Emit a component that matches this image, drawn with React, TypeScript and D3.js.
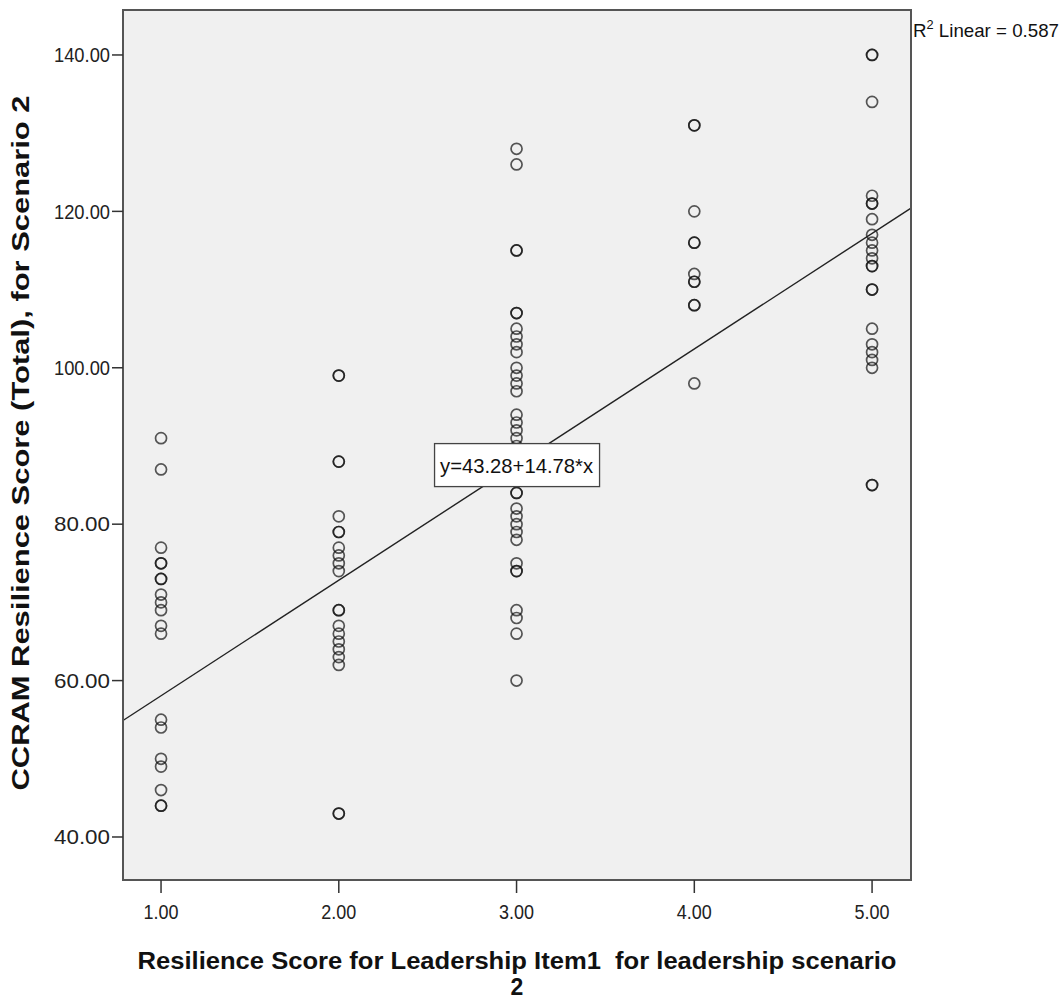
import React from "react";
import * as d3 from "d3";

const xLevels = [1, 2, 3, 4, 5];
const scoresAt1 = [91, 87, 77, 75, 75, 73, 73, 71, 70, 69, 67, 66, 55, 54, 50, 49, 46, 44, 44];
const scoresAt2 = [99, 99, 88, 88, 81, 79, 79, 77, 76, 75, 74, 69, 69, 67, 66, 65, 64, 63, 62, 43, 43];
const scoresAt3 = [128, 126, 115, 115, 107, 107, 105, 104, 103, 102, 100, 99, 98, 97, 94, 93, 92, 91, 90, 87, 84, 84, 82, 81, 80, 79, 78, 75, 74, 74, 69, 68, 66, 60];
const scoresAt4 = [131, 131, 120, 116, 116, 112, 111, 111, 108, 108, 98];
const scoresAt5 = [140, 140, 134, 122, 121, 121, 119, 117, 116, 115, 114, 113, 113, 110, 110, 105, 103, 102, 101, 100, 85, 85];
const xTicks = [1, 2, 3, 4, 5];
const yTicks = [40, 60, 80, 100, 120, 140];
const intercept = 43.28;
const slope = 14.78;
const r2Text = "0.587";

const allScores = [scoresAt1, scoresAt2, scoresAt3, scoresAt4, scoresAt5];
const points = xLevels.flatMap((xv, i) => allScores[i].map((yv) => ({ x: xv, y: yv })));

export default function App() {
  const left = 123, right = 911, top = 10, bottom = 880;
  const x = d3.scaleLinear().domain([0.786, 5.219]).range([left, right]);
  const y = d3.scaleLinear().domain([34.5, 145.75]).range([bottom, top]);
  const fmt = d3.format(".2f");
  const [x0, x1] = x.domain();
  const lineGen = d3.line<number>().x((d) => x(d)).y((d) => y(intercept + slope * d));
  const boxX = x(3), boxY = y(intercept + slope * 3);
  const font = "'Liberation Sans', Arial, sans-serif";
  return (
    <svg width={1063} height={1000} style={{ position: "absolute", left: 0, top: 0, background: "#fff" }} fontFamily={font}>
      <defs>
        <clipPath id="plotclip">
          <rect x={left} y={top} width={right - left} height={bottom - top} />
        </clipPath>
      </defs>
      <rect x={left} y={top} width={right - left} height={bottom - top} fill="#f0f0f0" />
      <g clipPath="url(#plotclip)">
        {points.map((p, i) => (
          <circle key={i} cx={x(p.x)} cy={y(p.y)} r={5.5} fill="none" stroke="#111" strokeOpacity={0.7} strokeWidth={1.7} />
        ))}
        <path d={lineGen([x0, x1]) || ""} fill="none" stroke="#222" strokeWidth={1.4} />
      </g>
      <rect x={left} y={top} width={right - left} height={bottom - top} fill="none" stroke="#555" strokeWidth={2} />
      {yTicks.map((t) => (
        <g key={t}>
          <line x1={left - 11} x2={left} y1={y(t)} y2={y(t)} stroke="#333" strokeWidth={1.5} />
          <text x={left - 13} y={y(t)} dy="0.36em" textAnchor="end" fontSize={20} fill="#222" textLength={56} lengthAdjust="spacingAndGlyphs">{fmt(t)}</text>
        </g>
      ))}
      {xTicks.map((t) => (
        <g key={t}>
          <line x1={x(t)} x2={x(t)} y1={bottom} y2={bottom + 13} stroke="#333" strokeWidth={1.5} />
          <text x={x(t)} y={bottom + 32} dy="0.36em" textAnchor="middle" fontSize={20} fill="#222" textLength={35} lengthAdjust="spacingAndGlyphs">{fmt(t)}</text>
        </g>
      ))}
      <g transform={`translate(${boxX},${boxY})`}>
        <rect x={-82} y={-21} width={165} height={43} fill="#fff" stroke="#444" strokeWidth={1.3} />
        <text x={0} y={1} dy="0.36em" textAnchor="middle" fontSize={21} fill="#111" textLength={153} lengthAdjust="spacingAndGlyphs">
          y=43.28+14.78*x
        </text>
      </g>
      <text x={913} y={37} fontSize={19} fill="#111" textLength={146} lengthAdjust="spacingAndGlyphs">
        R<tspan fontSize={13} dy={-8}>2</tspan><tspan dy={8}> Linear = {r2Text}</tspan>
      </text>
      <text transform={`translate(29,443) rotate(-90)`} textAnchor="middle" fontSize={23} fontWeight="bold" fill="#111" textLength={695} lengthAdjust="spacingAndGlyphs">
        CCRAM Resilience Score (Total), for Scenario 2
      </text>
      <text x={517} y={969} textAnchor="middle" fontSize={23} fontWeight="bold" fill="#111" textLength={759} lengthAdjust="spacingAndGlyphs" style={{ whiteSpace: "pre" }}>
        {"Resilience Score for Leadership Item1  for leadership scenario"}
      </text>
      <text x={517} y={995} textAnchor="middle" fontSize={23} fontWeight="bold" fill="#111">2</text>
    </svg>
  );
}
